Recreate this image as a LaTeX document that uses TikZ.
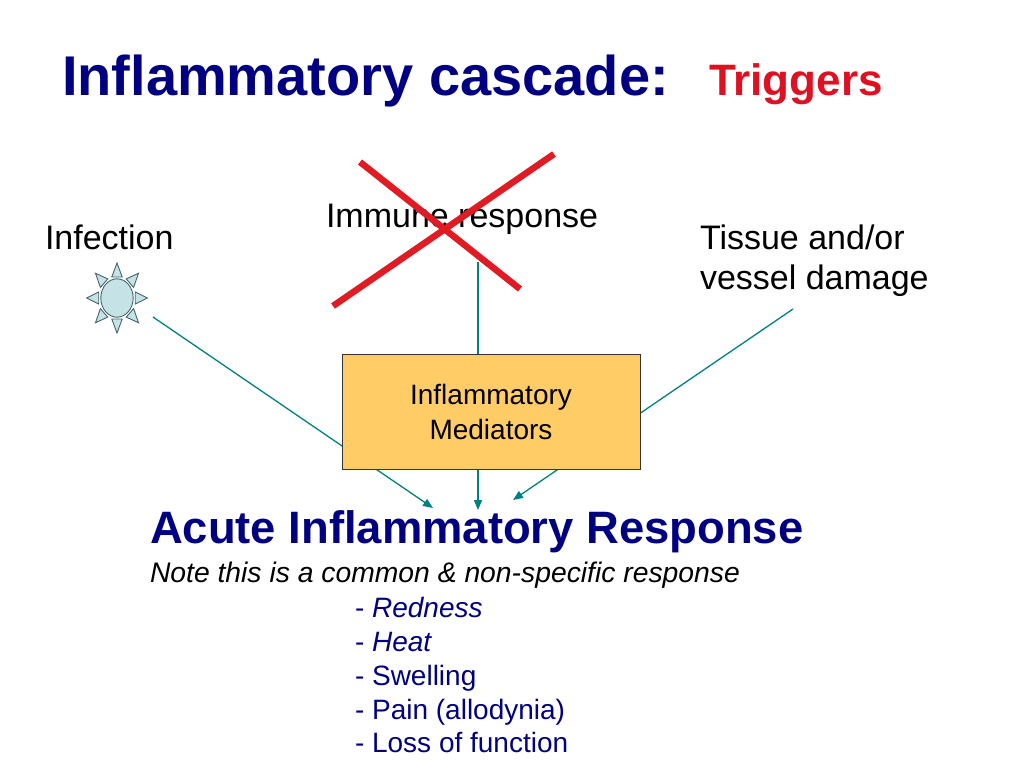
\documentclass[tikz,border=0pt]{standalone}
\usepackage{fontspec}
\setmainfont{Liberation Sans}
\usetikzlibrary{arrows.meta}
\definecolor{navy}{RGB}{0,0,128}
\definecolor{trigred}{RGB}{221,17,34}
\definecolor{crossred}{RGB}{224,27,36}
\definecolor{tealc}{RGB}{0,128,128}
\definecolor{boxfill}{RGB}{255,204,102}
\definecolor{sunfill}{RGB}{197,226,230}
\definecolor{sundraw}{RGB}{70,100,105}
\tikzset{
  txt/.style={anchor=base west, inner sep=0pt, outer sep=0pt},
  conn/.style={draw=tealc, line width=1.3pt},
  arr/.style={conn, -{Triangle[length=10pt,width=8pt]}},
  crossline/.style={draw=crossred, line width=6.5pt},
  mediator/.style={draw=black!80, line width=1pt, fill=boxfill, minimum width=298pt, minimum height=115pt, align=center, inner sep=0pt},
  ray/.style={fill=sunfill, draw=sundraw, line width=0.9pt, line join=miter},
}
\begin{document}
\begin{tikzpicture}[x=1pt,y=-1pt]
\useasboundingbox (0,0) rectangle (1024,768);

% titles
\node[txt, text=navy, font=\fontsize{56}{60}\selectfont\bfseries] (title) at (62,95) {Inflammatory cascade:};
\node[txt, text=trigred, font=\fontsize{44}{50}\selectfont\bfseries] (trig) at (709,95) {Triggers};

% trigger labels
\node[txt, font=\fontsize{34}{40}\selectfont] (infection) at (45,249) {Infection};
\node[txt, font=\fontsize{34}{40}\selectfont] (immune) at (326,227) {Immune response};
\node[txt, font=\fontsize{34}{40}\selectfont] (tissue1) at (700,249) {Tissue and/or};
\node[txt, font=\fontsize{34}{40}\selectfont] (tissue2) at (700,289) {vessel damage};

% connector end points
\coordinate (sunout) at (153,317);
\coordinate (immout) at (478,262);
\coordinate (tisout) at (793,309);
\coordinate (e1) at (433,508);
\coordinate (e2) at (478,510);
\coordinate (e3) at (513,500);

% connectors
\draw[arr] (sunout) -- (e1);
\draw[arr] (immout) -- (e2);
\draw[arr] (tisout) -- (e3);

% mediator box
\node[mediator, font=\fontsize{28}{35}\selectfont] (med) at (491,411.5) {Inflammatory\\Mediators};

% cross over immune response
\coordinate (c1) at (360,162);
\coordinate (c2) at (520,289);
\coordinate (c3) at (333,306);
\coordinate (c4) at (554,154);
\draw[crossline] (c1) -- (c2);
\draw[crossline] (c3) -- (c4);

% sun
\begin{scope}[shift={(117,298)}, xscale=0.87]
  \foreach \a in {0,45,...,315}{
    \draw[ray, rotate=\a] (35,0) -- (21,-6) -- (21,6) -- cycle;
  }
  \draw[ray] (0,0) ellipse [x radius=18.6, y radius=19.2];
\end{scope}

% response text
\node[txt, text=navy, font=\fontsize{45.4}{50}\selectfont\bfseries] (acute) at (150,543) {Acute Inflammatory Response};
\node[txt, font=\fontsize{28.3}{34}\selectfont\itshape] (note) at (150,582) {Note this is a common \& non-specific response};
\node[txt, text=navy, font=\fontsize{28}{34}\selectfont] (l1) at (355,617) {- \textit{Redness}};
\node[txt, text=navy, font=\fontsize{28}{34}\selectfont] (l2) at (355,651) {- \textit{Heat}};
\node[txt, text=navy, font=\fontsize{28}{34}\selectfont] (l3) at (355,685) {- Swelling};
\node[txt, text=navy, font=\fontsize{28}{34}\selectfont] (l4) at (355,719) {- Pain (allodynia)};
\node[txt, text=navy, font=\fontsize{28}{34}\selectfont] (l5) at (355,752) {- Loss of function};
\end{tikzpicture}
\end{document}
